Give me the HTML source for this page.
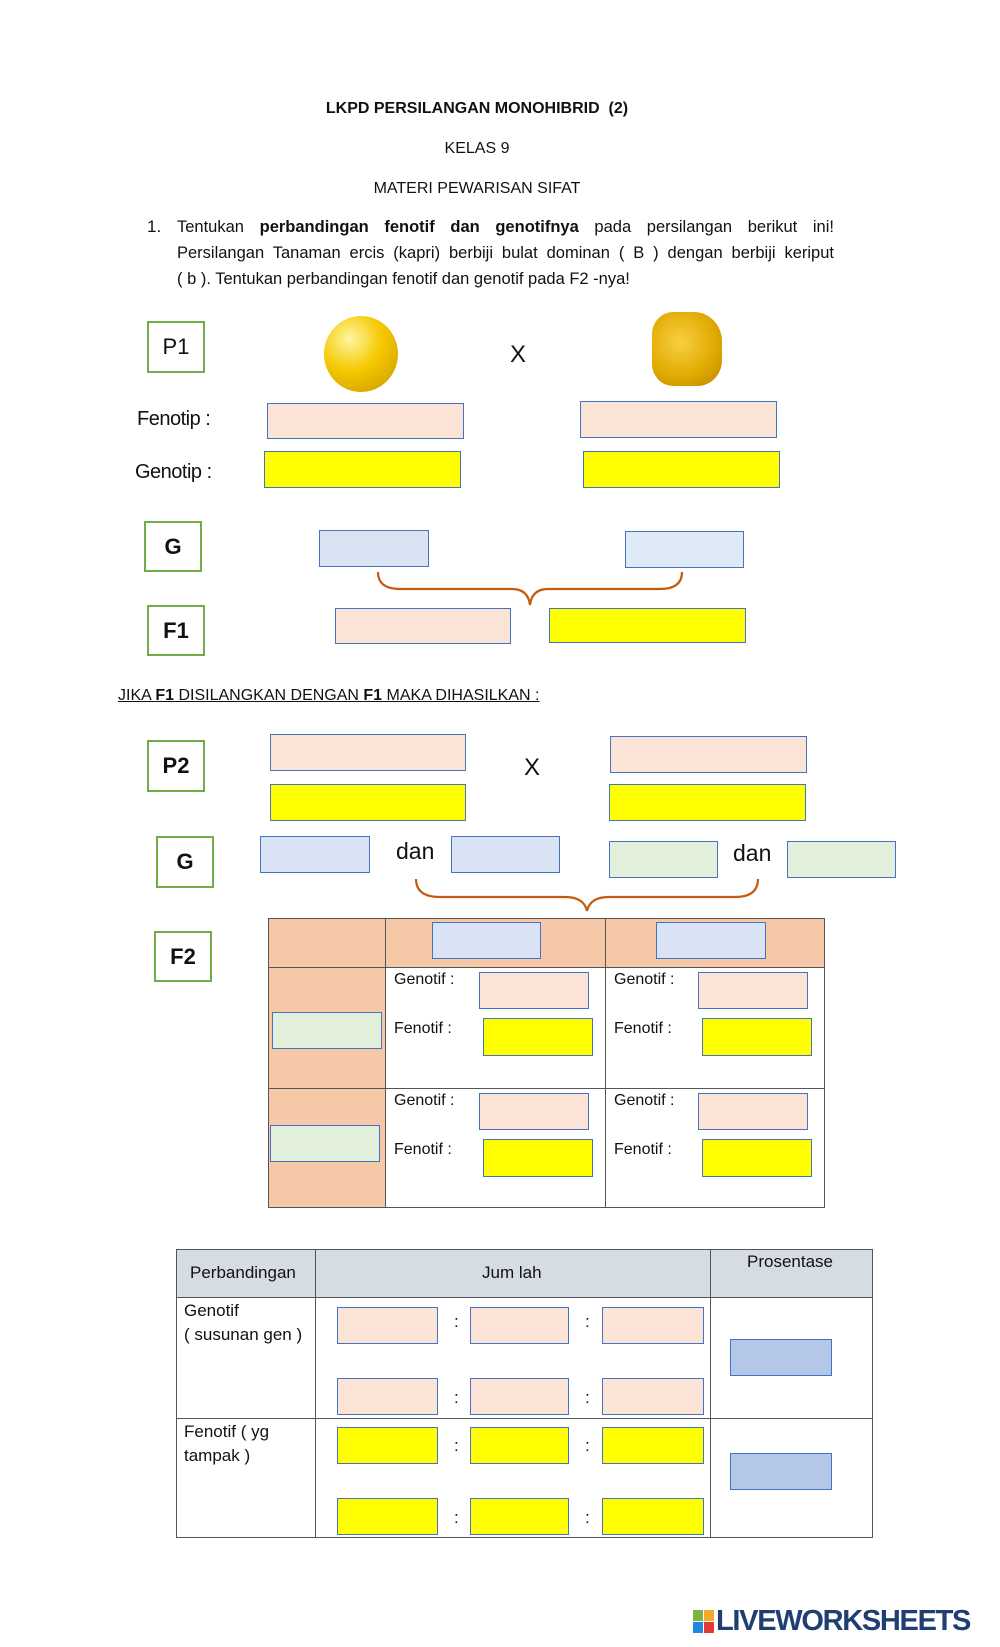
<!DOCTYPE html>
<html><head><meta charset="utf-8"><style>
*{margin:0;padding:0;box-sizing:border-box}
body{width:1000px;height:1647px;background:#fff;position:relative;overflow:hidden;font-family:"Liberation Sans",sans-serif;color:#111}
.a{position:absolute}
.t{position:absolute;white-space:nowrap;font-size:17px;line-height:20px}
.b{position:absolute;border:1.5px solid #4472c4}
.pk{background:#fbe3d6}
.yl{background:#ffff00}
.bl{background:#dae3f3}
.gr{background:#e2efda}
.pb{background:#b4c7e7}
.lb{position:absolute;border:2px solid #70ad47;background:#fff;font-size:22px;display:flex;align-items:center;justify-content:center}
</style></head><body>
<div class="t" style="left:0;width:954px;text-align:center;top:99px;font-weight:bold;font-size:16px">LKPD PERSILANGAN MONOHIBRID&nbsp; (2)</div>
<div class="t" style="left:0;width:954px;text-align:center;top:139px;font-size:16px">KELAS 9</div>
<div class="t" style="left:0;width:954px;text-align:center;top:179px;font-size:16px">MATERI PEWARISAN SIFAT</div>
<div class="t" style="left:147px;top:217px">1.</div>
<div class="t" style="left:177px;top:217px;width:657px;text-align:justify;text-align-last:justify;font-size:16.5px">Tentukan <b>perbandingan fenotif dan genotifnya</b> pada persilangan berikut ini!</div>
<div class="t" style="left:177px;top:243px;width:657px;text-align:justify;text-align-last:justify;font-size:16.5px">Persilangan Tanaman ercis (kapri) berbiji bulat dominan ( B ) dengan berbiji keriput</div>
<div class="t" style="left:177px;top:269px;font-size:16.5px">( b ). Tentukan perbandingan fenotif dan genotif pada F2 -nya!</div>

<div class="lb" style="left:147px;top:321px;width:58px;height:52px">P1</div>
<div class="a" style="left:324px;top:316px;width:74px;height:76px;border-radius:50%;background:radial-gradient(circle at 35% 30%,#fff6a0,#f5c800 45%,#c99500 100%)"></div>
<div class="a" style="left:652px;top:312px;width:70px;height:74px;border-radius:30% 40% 35% 30%;background:radial-gradient(circle at 40% 40%,#f8d040,#e0a800 60%,#b98300 100%)"></div>
<div class="t" style="left:510px;top:342px;font-size:24px;line-height:26px">X</div>
<div class="t" style="left:137px;top:408px;font-size:20px;line-height:22px;letter-spacing:-0.5px">Fenotip :</div>
<div class="t" style="left:135px;top:461px;font-size:20px;line-height:22px;letter-spacing:-0.5px">Genotip :</div>
<div class="b pk" style="left:267px;top:403px;width:197px;height:36px"></div>
<div class="b pk" style="left:580px;top:401px;width:197px;height:37px"></div>
<div class="b yl" style="left:264px;top:451px;width:197px;height:37px"></div>
<div class="b yl" style="left:583px;top:451px;width:197px;height:37px"></div>

<div class="lb" style="left:144px;top:521px;width:58px;height:51px;font-weight:bold">G</div>
<div class="b bl" style="left:319px;top:530px;width:110px;height:37px"></div>
<div class="b" style="left:625px;top:531px;width:119px;height:37px;background:#deeaf6"></div>
<svg class="a" style="left:0;top:0" width="1000" height="1647">
<path d="M378 572 Q378 589 400 589 L512 589 Q528 589 530 605 Q532 589 548 589 L660 589 Q682 589 682 572" fill="none" stroke="#c55a11" stroke-width="2.2"/>
<path d="M416 879 Q416 897 440 897 L565 897 Q584 897 587 911 Q590 897 609 897 L735 897 Q758 897 758 879" fill="none" stroke="#c55a11" stroke-width="2.2"/>
</svg>
<div class="lb" style="left:147px;top:605px;width:58px;height:51px;font-weight:bold">F1</div>
<div class="b pk" style="left:335px;top:608px;width:176px;height:36px"></div>
<div class="b yl" style="left:549px;top:608px;width:197px;height:35px"></div>

<div class="t" style="left:118px;top:686px;font-size:16px;text-decoration:underline">JIKA <b>F1</b> DISILANGKAN DENGAN <b>F1</b> MAKA DIHASILKAN :</div>

<div class="lb" style="left:147px;top:740px;width:58px;height:52px;font-weight:bold">P2</div>
<div class="b pk" style="left:270px;top:734px;width:196px;height:37px"></div>
<div class="b yl" style="left:270px;top:784px;width:196px;height:37px"></div>
<div class="t" style="left:524px;top:755px;font-size:24px;line-height:26px">X</div>
<div class="b pk" style="left:610px;top:736px;width:197px;height:37px"></div>
<div class="b yl" style="left:609px;top:784px;width:197px;height:37px"></div>

<div class="lb" style="left:156px;top:836px;width:58px;height:52px;font-weight:bold">G</div>
<div class="b bl" style="left:260px;top:836px;width:110px;height:37px"></div>
<div class="t" style="left:396px;top:838px;font-size:23px;line-height:26px">dan</div>
<div class="b bl" style="left:451px;top:836px;width:109px;height:37px"></div>
<div class="b gr" style="left:609px;top:841px;width:109px;height:37px"></div>
<div class="t" style="left:733px;top:840px;font-size:23px;line-height:26px">dan</div>
<div class="b gr" style="left:787px;top:841px;width:109px;height:37px"></div>

<div class="lb" style="left:154px;top:931px;width:58px;height:51px;font-weight:bold">F2</div>
<div class="a" style="left:268px;top:918px;width:557px;height:290px;border:1px solid #555"></div>
<div class="a" style="left:269px;top:919px;width:555px;height:48px;background:#f6c8a8"></div>
<div class="a" style="left:269px;top:919px;width:116px;height:288px;background:#f6c8a8"></div>
<div class="a" style="left:268px;top:967px;width:557px;height:1px;background:#555"></div>
<div class="a" style="left:268px;top:1088px;width:557px;height:1px;background:#555"></div>
<div class="a" style="left:385px;top:918px;width:1px;height:290px;background:#555"></div>
<div class="a" style="left:605px;top:918px;width:1px;height:290px;background:#555"></div>
<div class="b bl" style="left:432px;top:922px;width:109px;height:37px"></div>
<div class="b bl" style="left:656px;top:922px;width:110px;height:37px"></div>
<div class="b gr" style="left:272px;top:1012px;width:110px;height:37px"></div>
<div class="b gr" style="left:270px;top:1125px;width:110px;height:37px"></div>

<div class="t" style="left:394px;top:970px;font-size:16px">Genotif :</div>
<div class="t" style="left:394px;top:1019px;font-size:16px">Fenotif :</div>
<div class="b pk" style="left:479px;top:972px;width:110px;height:37px"></div>
<div class="b yl" style="left:483px;top:1018px;width:110px;height:38px"></div>
<div class="t" style="left:614px;top:970px;font-size:16px">Genotif :</div>
<div class="t" style="left:614px;top:1019px;font-size:16px">Fenotif :</div>
<div class="b pk" style="left:698px;top:972px;width:110px;height:37px"></div>
<div class="b yl" style="left:702px;top:1018px;width:110px;height:38px"></div>
<div class="t" style="left:394px;top:1091px;font-size:16px">Genotif :</div>
<div class="t" style="left:394px;top:1140px;font-size:16px">Fenotif :</div>
<div class="b pk" style="left:479px;top:1093px;width:110px;height:37px"></div>
<div class="b yl" style="left:483px;top:1139px;width:110px;height:38px"></div>
<div class="t" style="left:614px;top:1091px;font-size:16px">Genotif :</div>
<div class="t" style="left:614px;top:1140px;font-size:16px">Fenotif :</div>
<div class="b pk" style="left:698px;top:1093px;width:110px;height:37px"></div>
<div class="b yl" style="left:702px;top:1139px;width:110px;height:38px"></div>

<div class="a" style="left:176px;top:1249px;width:697px;height:289px;border:1px solid #555"></div>
<div class="a" style="left:177px;top:1250px;width:695px;height:47px;background:#d6dce4"></div>
<div class="a" style="left:176px;top:1297px;width:697px;height:1px;background:#555"></div>
<div class="a" style="left:176px;top:1418px;width:697px;height:1px;background:#555"></div>
<div class="a" style="left:315px;top:1249px;width:1px;height:289px;background:#555"></div>
<div class="a" style="left:710px;top:1249px;width:1px;height:289px;background:#555"></div>
<div class="t" style="left:190px;top:1263px">Perbandingan</div>
<div class="t" style="left:482px;top:1263px">Jum lah</div>
<div class="t" style="left:747px;top:1252px">Prosentase</div>
<div class="t" style="left:184px;top:1301px">Genotif</div>
<div class="t" style="left:184px;top:1325px">( susunan gen )</div>
<div class="t" style="left:184px;top:1422px">Fenotif ( yg</div>
<div class="t" style="left:184px;top:1446px">tampak )</div>

<div class="b pk" style="left:337px;top:1307px;width:101px;height:37px"></div>
<div class="b pk" style="left:470px;top:1307px;width:99px;height:37px"></div>
<div class="b pk" style="left:602px;top:1307px;width:102px;height:37px"></div>
<div class="b pk" style="left:337px;top:1378px;width:101px;height:37px"></div>
<div class="b pk" style="left:470px;top:1378px;width:99px;height:37px"></div>
<div class="b pk" style="left:602px;top:1378px;width:102px;height:37px"></div>
<div class="b yl" style="left:337px;top:1427px;width:101px;height:37px"></div>
<div class="b yl" style="left:470px;top:1427px;width:99px;height:37px"></div>
<div class="b yl" style="left:602px;top:1427px;width:102px;height:37px"></div>
<div class="b yl" style="left:337px;top:1498px;width:101px;height:37px"></div>
<div class="b yl" style="left:470px;top:1498px;width:99px;height:37px"></div>
<div class="b yl" style="left:602px;top:1498px;width:102px;height:37px"></div>
<div class="t" style="left:454px;top:1312px">:</div><div class="t" style="left:585px;top:1312px">:</div>
<div class="t" style="left:454px;top:1388px">:</div><div class="t" style="left:585px;top:1388px">:</div>
<div class="t" style="left:454px;top:1436px">:</div><div class="t" style="left:585px;top:1436px">:</div>
<div class="t" style="left:454px;top:1508px">:</div><div class="t" style="left:585px;top:1508px">:</div>
<div class="b pb" style="left:730px;top:1339px;width:102px;height:37px"></div>
<div class="b pb" style="left:730px;top:1453px;width:102px;height:37px"></div>

<div class="a" style="left:693px;top:1610px;width:22px;height:23px">
<div class="a" style="left:0;top:0;width:10px;height:11px;background:#7cb342"></div>
<div class="a" style="left:11px;top:0;width:10px;height:11px;background:#f9a825"></div>
<div class="a" style="left:0;top:12px;width:10px;height:11px;background:#1e88e5"></div>
<div class="a" style="left:11px;top:12px;width:10px;height:11px;background:#e53935"></div>
</div>
<div class="t" style="left:716px;top:1606px;font-size:29px;line-height:30px;font-weight:bold;color:#1f3f73;letter-spacing:-1.3px">LIVEWORKSHEETS</div>
</body></html>
